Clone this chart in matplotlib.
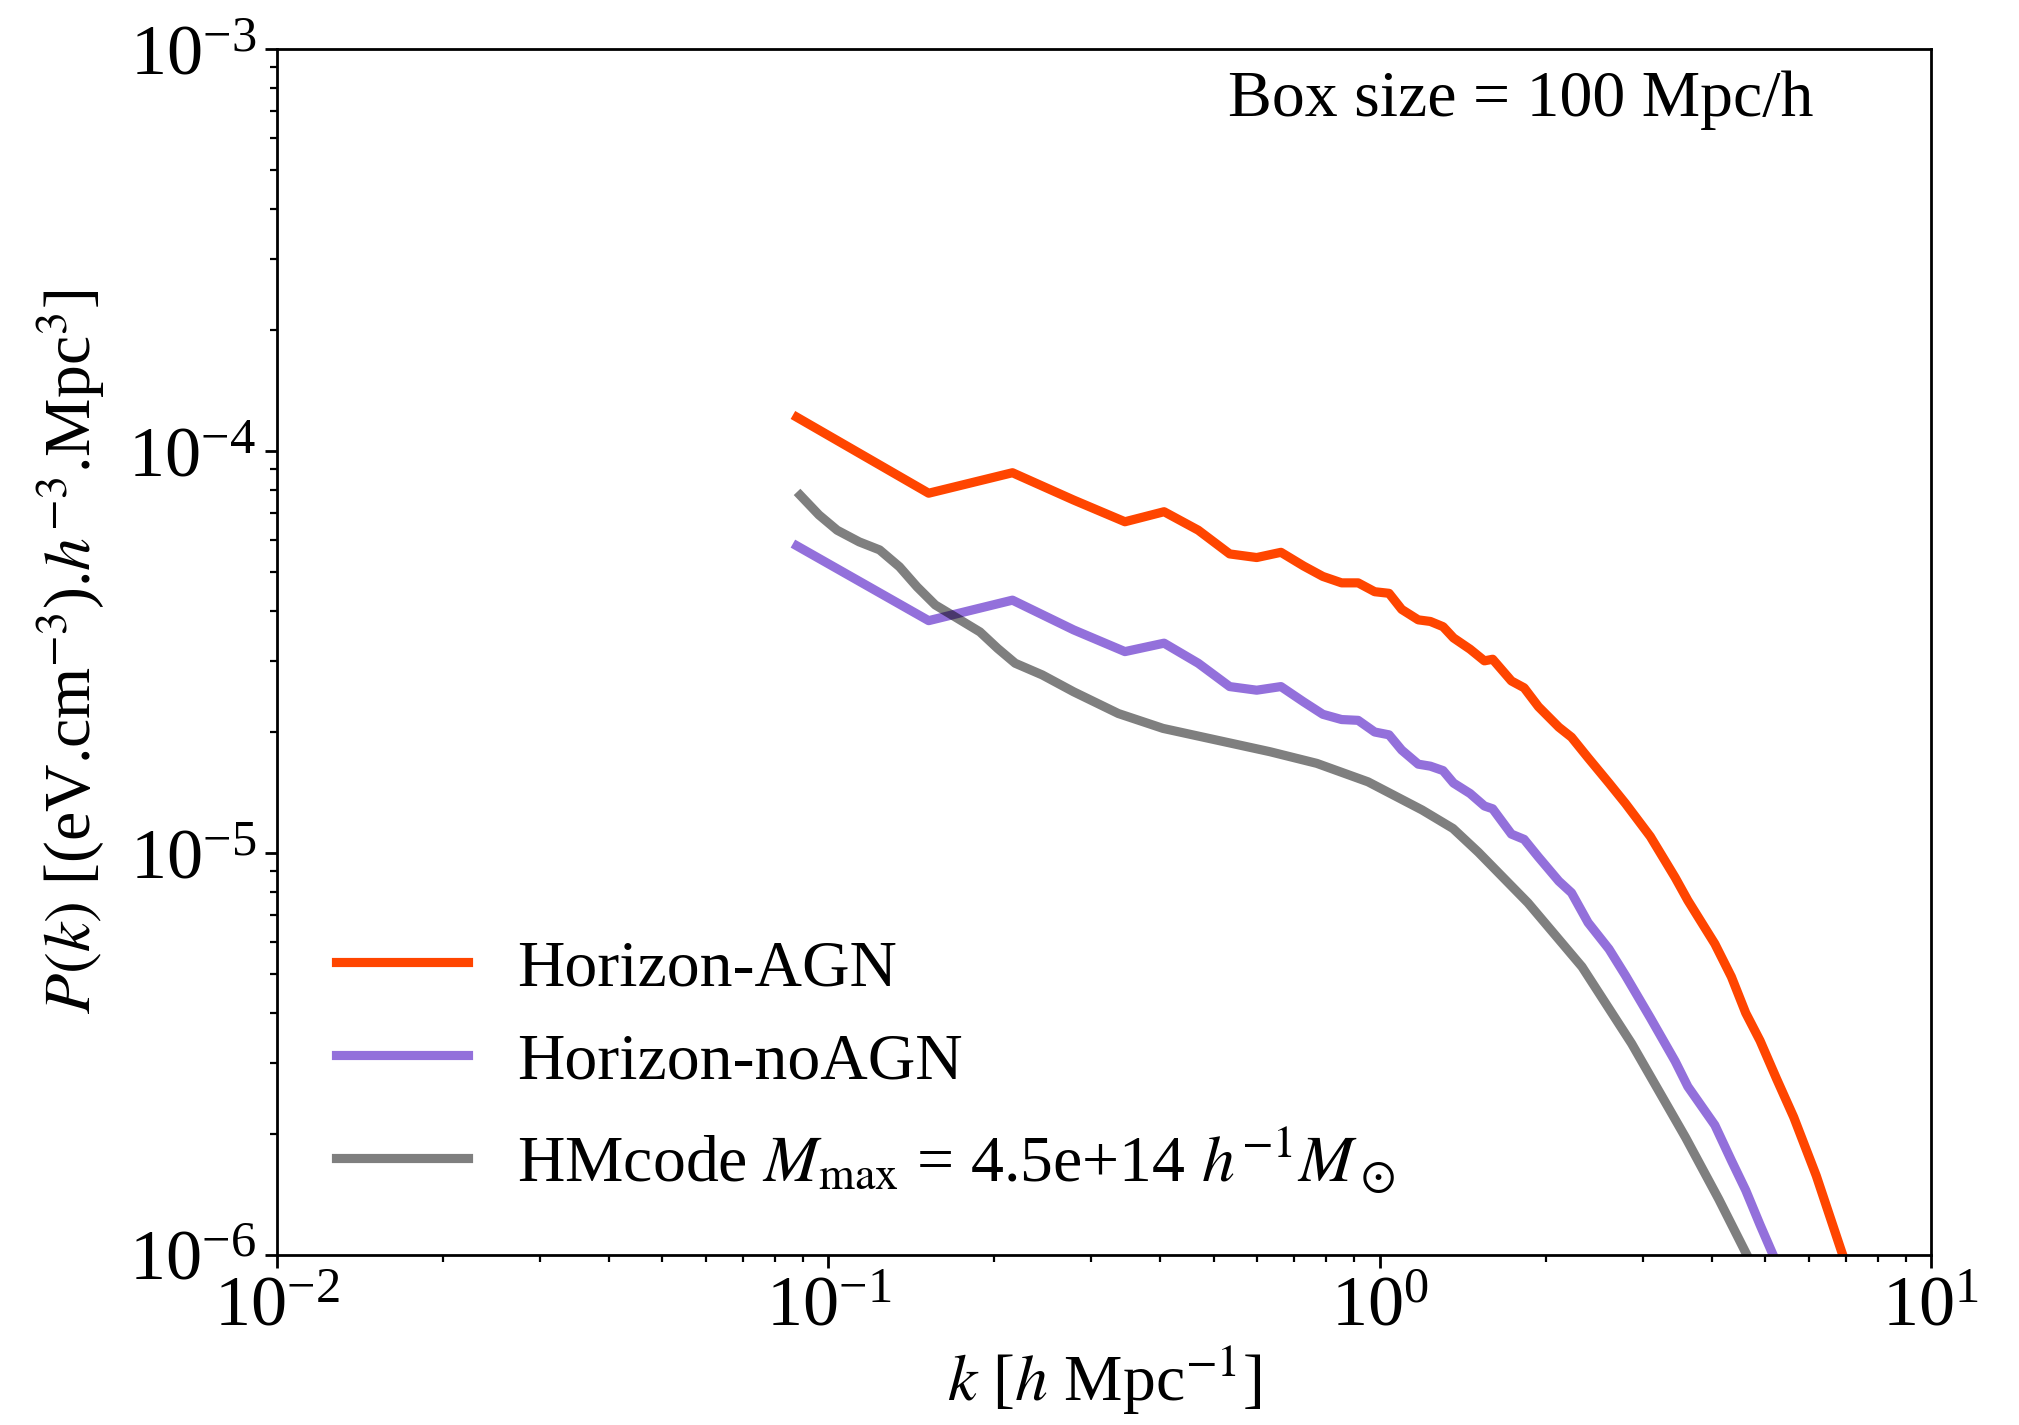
import numpy as np
import matplotlib
matplotlib.use("Agg")
import matplotlib.pyplot as plt

plt.rcParams['font.family'] = 'serif'
plt.rcParams['font.serif'] = ['Liberation Serif', 'DejaVu Serif']
plt.rcParams['mathtext.fontset'] = 'stix'

# ---- data (log10 values) ----
logk_agn = [-1.057, -0.818, -0.666, -0.555, -0.462, -0.391, -0.329, -0.272, -0.223, -0.179,
            -0.138, -0.103, -0.069, -0.039, -0.009, 0.017, 0.040, 0.070, 0.092, 0.115,
            0.134, 0.164, 0.190, 0.205, 0.239, 0.262, 0.288, 0.325, 0.348, 0.378,
            0.416, 0.446, 0.491, 0.536, 0.559, 0.608, 0.638, 0.664, 0.690, 0.720,
            0.751, 0.792, 0.837, 0.860]
logP_agn = [-3.916, -4.105, -4.054, -4.122, -4.176, -4.151, -4.197, -4.256, -4.265, -4.252,
            -4.286, -4.312, -4.328, -4.328, -4.350, -4.354, -4.394, -4.420, -4.424, -4.437,
            -4.465, -4.493, -4.522, -4.518, -4.572, -4.589, -4.636, -4.687, -4.712, -4.763,
            -4.826, -4.877, -4.959, -5.061, -5.118, -5.226, -5.308, -5.398, -5.467, -5.562,
            -5.657, -5.803, -5.988, -6.080]

logk_noagn = [-1.057, -0.818, -0.666, -0.555, -0.462, -0.391, -0.329, -0.272, -0.223, -0.179,
              -0.138, -0.103, -0.069, -0.039, -0.009, 0.017, 0.040, 0.070, 0.092, 0.115,
              0.134, 0.164, 0.190, 0.205, 0.239, 0.262, 0.288, 0.325, 0.348, 0.378,
              0.416, 0.446, 0.491, 0.536, 0.559, 0.608, 0.638, 0.664, 0.690, 0.720]
logP_noagn = [-4.236, -4.422, -4.371, -4.445, -4.499, -4.478, -4.528, -4.586, -4.595, -4.586,
              -4.624, -4.655, -4.668, -4.670, -4.699, -4.706, -4.744, -4.779, -4.784, -4.795,
              -4.826, -4.852, -4.883, -4.890, -4.953, -4.966, -5.010, -5.070, -5.099, -5.173,
              -5.239, -5.305, -5.410, -5.518, -5.581, -5.677, -5.765, -5.839, -5.925, -6.020]

logk_hm = [-1.051, -1.017, -0.984, -0.944, -0.907, -0.871, -0.839, -0.806, -0.766, -0.725,
           -0.693, -0.661, -0.612, -0.555, -0.474, -0.393, -0.296, -0.199, -0.114, -0.021,
           0.077, 0.133, 0.179, 0.269, 0.367, 0.457, 0.555, 0.615, 0.664, 0.685]
logP_hm = [-4.110, -4.159, -4.197, -4.226, -4.246, -4.288, -4.338, -4.383, -4.416, -4.450,
           -4.491, -4.528, -4.557, -4.599, -4.653, -4.690, -4.719, -4.748, -4.777, -4.823,
           -4.893, -4.939, -4.998, -5.124, -5.283, -5.474, -5.708, -5.861, -5.994, -6.050]

labels = ['Horizon-AGN', 'Horizon-noAGN',
          r'HMcode $M_{\rm max}$ = 4.5e+14 $h^{-1}M_\odot$']
colors = ['#FF4500', '#9370DB', 'black']
alphas = [1.0, 1.0, 0.5]

fig = plt.figure(figsize=(10.095, 7.125), dpi=200)
ax = fig.add_axes([0.1372, 0.1193, 0.8192, 0.8463])

series = [(logk_agn, logP_agn), (logk_noagn, logP_noagn), (logk_hm, logP_hm)]
for (lk, lp), lab, c, a in zip(series, labels, colors, alphas):
    ax.plot(10 ** np.array(lk), 10 ** np.array(lp), color=c, alpha=a, lw=3.3, label=lab)

ax.set_xscale('log')
ax.set_yscale('log')
ax.set_xlim(1e-2, 1e1)
ax.set_ylim(1e-6, 1e-3)

fs = 23.7
ax.tick_params(which='major', labelsize=26, length=4.5, width=1.0, pad=3)
ax.tick_params(which='minor', length=2.5, width=0.8)
for s in ax.spines.values():
    s.set_linewidth(1.0)

ax.set_xlabel(r'$k$ [$h$ Mpc$^{-1}$]', fontsize=fs, labelpad=1)
ax.set_ylabel(r'$P(k)$ [(eV.cm$^{-3}$).$h^{-3}$.Mpc$^3$]', fontsize=fs, labelpad=8)

ax.text(0.929, 0.982, 'Box size = 100 Mpc/h', transform=ax.transAxes,
        ha='right', va='top', fontsize=fs)

ax.legend(loc='lower left', frameon=False, fontsize=fs, handlelength=2.0,
          handletextpad=0.75, labelspacing=0.5, borderaxespad=0.5,
          bbox_to_anchor=(0.0, 0.0))

fig.savefig('out.png', dpi=200)
